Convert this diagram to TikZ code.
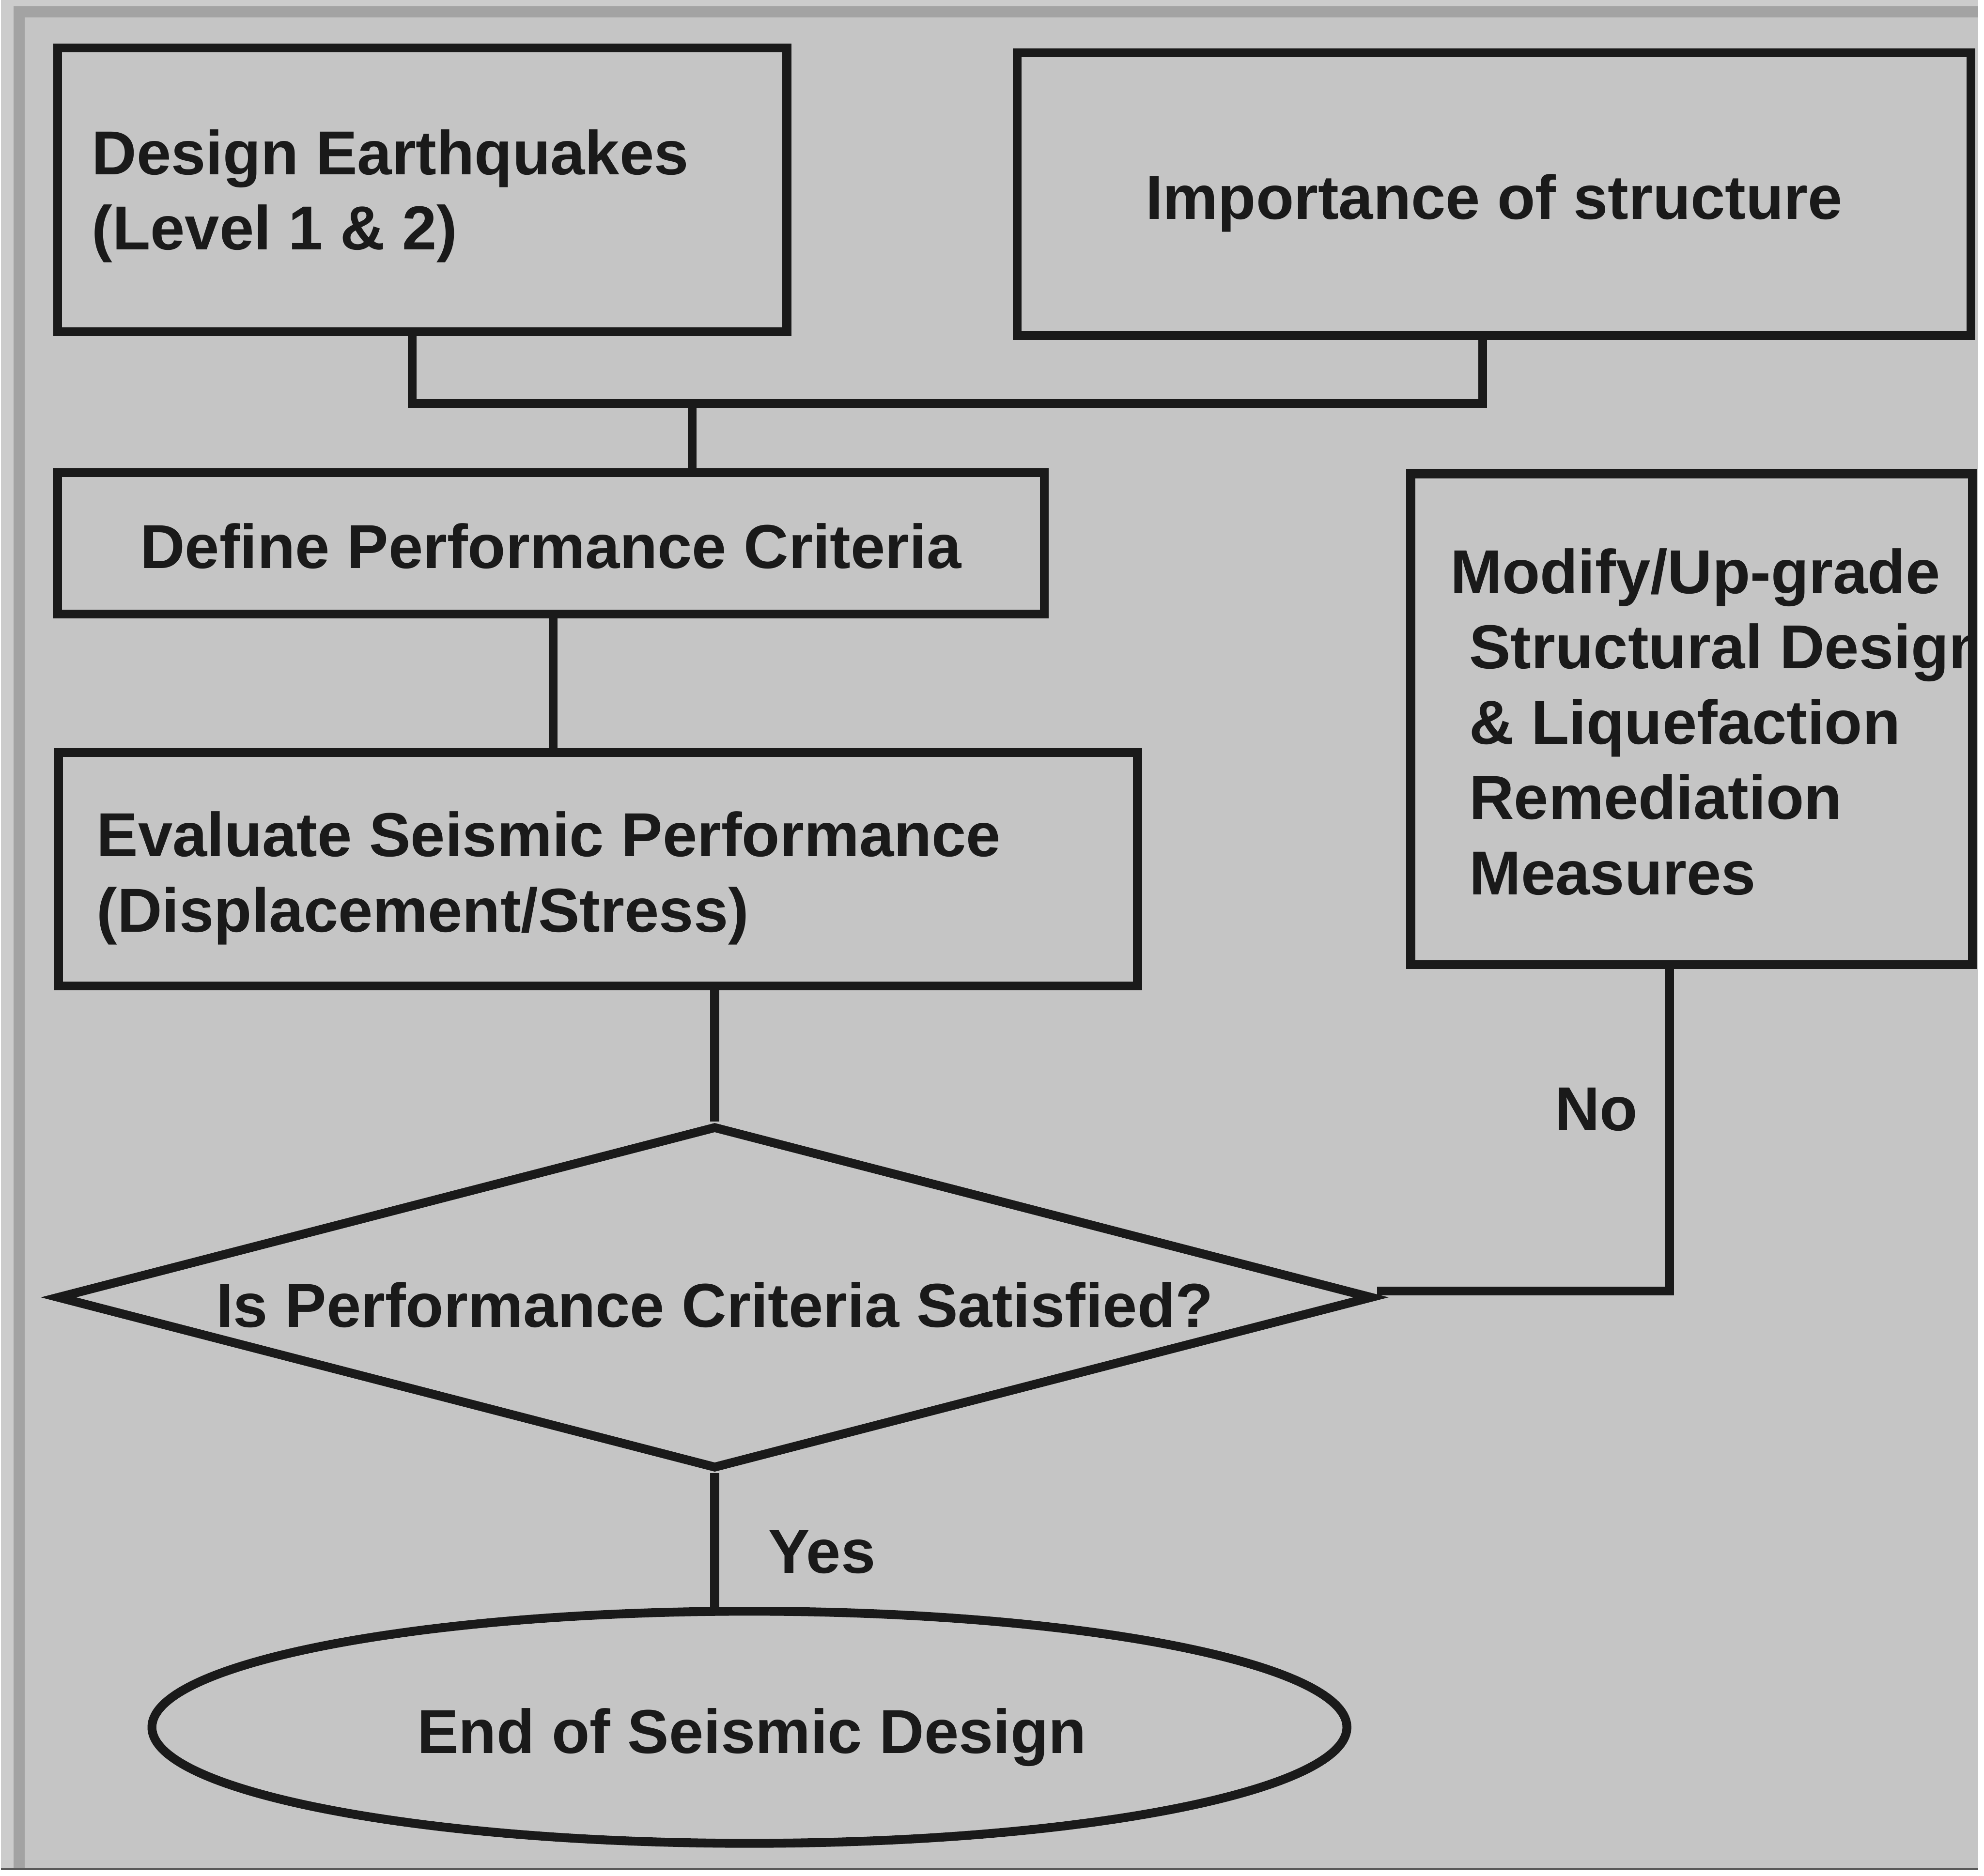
\documentclass[tikz,border=0pt]{standalone}
\usepackage{fontspec}
\setmainfont{Liberation Sans}
\usetikzlibrary{shapes.geometric,calc}
\definecolor{bg}{HTML}{C5C5C5}
\definecolor{bgout}{HTML}{CCCCCC}
\definecolor{framec}{HTML}{A3A3A3}
\definecolor{ink}{HTML}{1A1A1A}
\begin{document}
\begin{tikzpicture}[x=0.01cm,y=-0.01cm,
  lbl/.style={font=\fontsize{14}{17}\selectfont\bfseries, text=ink, inner sep=0pt},
  box/.style={draw=ink, line width=2pt, rectangle, inner sep=0pt},
  wire/.style={draw=ink, line width=2pt, line join=miter}]
% background and frame
\fill[bg] (0,0) rectangle (1568,1483.4);
\fill[bgout] (0,0) rectangle (1568,5);
\fill[bgout] (0,0) rectangle (10,1483.4);
\draw[framec, line width=0.09cm] (14.5,1483.4) -- (14.5,9.5) -- (1568,9.5);
\draw[gray!70!black, line width=0.015cm] (0,1482.5) -- (1568,1482.5);
\useasboundingbox (0,0) rectangle (1568,1483.4);

% nodes
\node[box, minimum width=5.78cm, minimum height=2.25cm,
      label={[lbl, align=left, anchor=west, xshift=0.30cm, yshift=-0.05cm]west:{Design Earthquakes\\(Level 1 \& 2)}}]
      (b1) at (334,150.5) {};
\node[box, minimum width=7.56cm, minimum height=2.24cm,
      label={[lbl, yshift=-0.07cm]center:Importance of structure}]
      (b2) at (1184,154) {};
\node[box, minimum width=7.82cm, minimum height=1.12cm,
      label={[lbl, yshift=-0.02cm]center:Define Performance Criteria}]
      (b3) at (436,431) {};
\node[box, minimum width=8.55cm, minimum height=1.85cm,
      label={[lbl, align=left, anchor=west, xshift=0.33cm, yshift=-0.07cm]west:{Evaluate Seismic Performance\\(Displacement/Stress)}}]
      (b4) at (473.5,689.5) {};
\node[box, minimum width=4.45cm, minimum height=3.89cm,
      path picture={\node[lbl, draw=none, anchor=west, align=left]
        at ([xshift=0.18cm,yshift=-0.02cm]path picture bounding box.west)
        {Modify/Up-grade\\\hspace*{0.15cm}Structural Design\\\hspace*{0.15cm}\& Liquefaction\\\hspace*{0.15cm}Remediation\\\hspace*{0.15cm}Measures};}]
      (b5) at (1340.5,570.5) {};
\node[draw=ink, line width=2pt, diamond, aspect=3.83, minimum width=10.43cm,
      minimum height=2.72cm, inner sep=0pt,
      label={[lbl, yshift=-0.06cm]center:Is Performance Criteria Satisfied?}]
      (dia) at (566,1029) {};
\node[draw=ink, line width=2pt, ellipse, minimum width=9.47cm,
      minimum height=1.84cm, inner sep=0pt,
      label={[lbl, xshift=0.02cm, yshift=-0.08cm]center:End of Seismic Design}]
      (fin) at (593.5,1370) {};
\node[lbl] (no) at (1265,880) {No};
\node[lbl] (yes) at (651,1231) {Yes};

% connectors
\coordinate (jn) at (548,320);
\draw[wire] ([xshift=-0.08cm]b1.south) |- (jn) -| ([xshift=-0.09cm]b2.south);
\draw[wire] (jn) -- (jn |- b3.north);
\draw[wire] ([xshift=0.02cm]b3.south) -- ([xshift=0.02cm]b3.south |- b4.north);
\draw[wire] (dia.north |- b4.south) -- (dia.north);
\draw[wire] ([yshift=0.05cm]dia.east) -| ([xshift=-0.175cm]b5.south);
\draw[wire] (dia.south) -- (dia.south |- fin.north);
\end{tikzpicture}
\end{document}
